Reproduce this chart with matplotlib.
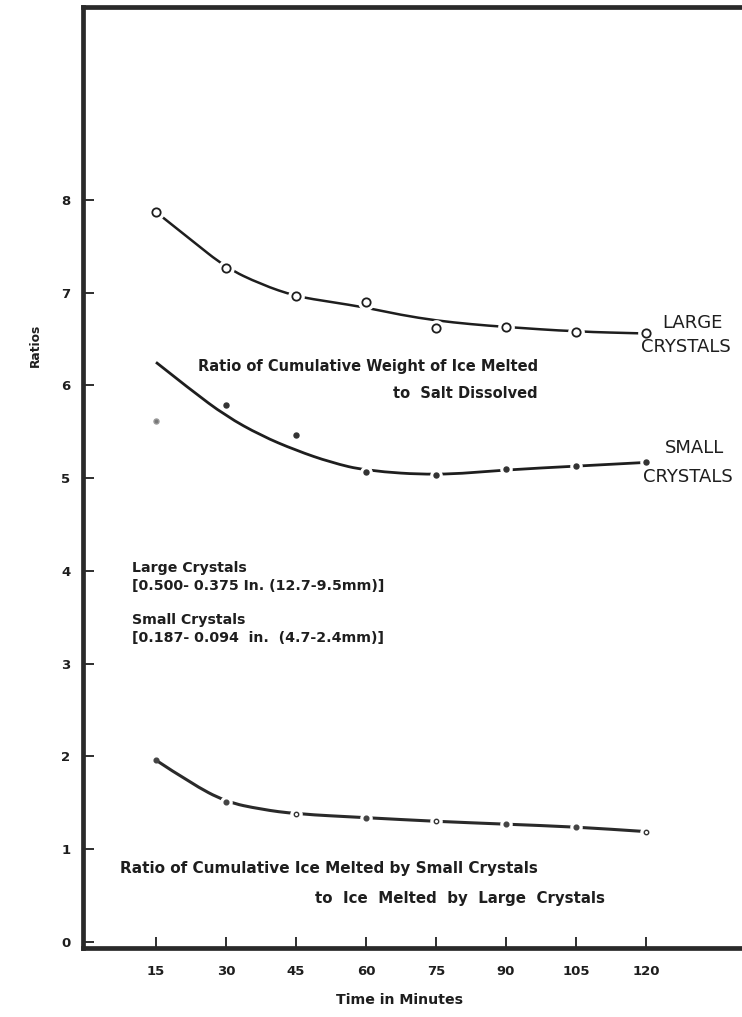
import matplotlib
matplotlib.use("Agg")
import matplotlib.pyplot as plt
from matplotlib.path import Path
from matplotlib.patches import PathPatch

# ---------------- data ----------------
time_min = [15, 30, 45, 60, 75, 90, 105, 120]
x_tick_labels = ["15", "30", "45", "60", "75", "90", "105", "120"]
y_ticks = [0, 1, 2, 3, 4, 5, 6, 7, 8]

# Ratio of cumulative weight of ice melted to salt dissolved
large_points = [7.87, 7.27, 6.96, 6.90, 6.62, 6.63, 6.58, 6.56]
small_points = [5.62, 5.79, 5.47, 5.07, 5.03, 5.10, 5.13, 5.17]

# hand-drawn smooth curves
large_curve_x = [15, 22.5, 30, 37.5, 45, 52.5, 60, 67.5, 75, 82.5, 90, 105, 120]
large_curve_y = [7.87, 7.57, 7.27, 7.09, 6.96, 6.90, 6.84, 6.76, 6.70, 6.66, 6.63, 6.58, 6.56]
small_curve_x = [15, 22.5, 30, 37.5, 45, 52.5, 60, 75, 90, 105, 120]
small_curve_y = [6.25, 5.95, 5.67, 5.46, 5.30, 5.17, 5.08, 5.03, 5.09, 5.13, 5.17]

# Ratio of cumulative ice melted by small crystals to ice melted by large crystals
ratio_points = [1.96, 1.51, 1.38, 1.34, 1.30, 1.27, 1.24, 1.19]
ratio_open = [False, False, True, False, True, False, False, True]
ratio_curve_x = [15, 22.5, 30, 37.5, 45, 60, 75, 90, 105, 120]
ratio_curve_y = [1.96, 1.71, 1.51, 1.43, 1.38, 1.34, 1.30, 1.27, 1.24, 1.19]

INK = "#1e1e1e"
FONT = "DejaVu Sans"

fig = plt.figure(figsize=(7.42, 10.17), dpi=100)
W, H = 742, 1017
left_px, right_px, top_px, bot_px = 83, 757, 7, 948
ax = fig.add_axes([left_px / W, 1 - bot_px / H, (right_px - left_px) / W, (bot_px - top_px) / H])
ax.set_xlim(-0.64, 143.8)
ax.set_ylim(-0.065, 10.08)

for side in ["left", "top", "bottom"]:
    ax.spines[side].set_linewidth(3.4)
    ax.spines[side].set_color("#2a2a2a")
ax.spines["right"].set_visible(False)

ax.set_xticks(time_min)
ax.set_xticklabels(x_tick_labels)
ax.set_yticks(y_ticks)
ax.set_yticklabels([str(v) for v in y_ticks])
ax.tick_params(axis="both", direction="in", colors=INK, width=1.3, length=8,
               labelsize=9.5)
ax.tick_params(axis="x", pad=12)
ax.tick_params(axis="y", pad=9)
for lab in ax.get_xticklabels() + ax.get_yticklabels():
    lab.set_fontweight("bold")
    lab.set_fontfamily(FONT)


def smooth_curve(xs, ys, lw, color):
    """Quadratic-Bezier rendering of a hand drawn curve through read points."""
    verts = [(xs[0], ys[0])]
    codes = [Path.MOVETO]
    for i in range(1, len(xs) - 1):
        mx = (xs[i] + xs[i + 1]) / 2
        my = (ys[i] + ys[i + 1]) / 2
        verts += [(xs[i], ys[i]), (mx, my)]
        codes += [Path.CURVE3, Path.CURVE3]
    verts.append((xs[-1], ys[-1]))
    codes.append(Path.LINETO)
    patch = PathPatch(Path(verts, codes), fill=False, edgecolor=color, lw=lw,
                      capstyle="butt", zorder=2)
    ax.add_patch(patch)


smooth_curve(large_curve_x, large_curve_y, 1.8, INK)
smooth_curve(small_curve_x, small_curve_y, 2.0, INK)
smooth_curve(ratio_curve_x, ratio_curve_y, 2.2, "#2a2a2a")

# white halos create the little gaps around each plotted point
ax.plot(time_min, large_points, ls="none", marker="o", ms=11, mfc="white", mec="white", zorder=3)
ax.plot(time_min, large_points, ls="none", marker="o", ms=6, mfc="white", mec=INK, mew=1.3, zorder=4)

ax.plot(time_min[3:], small_points[3:], ls="none", marker="o", ms=8, mfc="white", mec="white", zorder=3)
ax.plot(time_min[1:], small_points[1:], ls="none", marker="o", ms=3.6, mfc="#333333", mec="#333333", zorder=4)
ax.plot(time_min[:1], small_points[:1], ls="none", marker="o", ms=3.6, mfc="#777777", mec="#999999", zorder=4)

ax.plot(time_min[1:], ratio_points[1:], ls="none", marker="o", ms=8, mfc="white", mec="white", zorder=3)
for t, v, op in zip(time_min, ratio_points, ratio_open):
    if op:
        ax.plot([t], [v], ls="none", marker="o", ms=3.2, mfc="white", mec="#333333", mew=1.0, zorder=4)
    else:
        ax.plot([t], [v], ls="none", marker="o", ms=3.4, mfc="#444444", mec="#444444", zorder=4)


# ---- text annotations (pixel positions converted to figure fraction) ----
def ftext(xp, yp, s, ha="left", size=10, weight="bold", **kw):
    fig.text(xp / W, 1 - yp / H, s, ha=ha, va="center", fontsize=size,
             fontweight=weight, family=FONT, color=INK, **kw)


ftext(538, 366, "Ratio of Cumulative Weight of Ice Melted", ha="right", size=10.5)
ftext(538, 393, "to  Salt Dissolved", ha="right", size=10.5)

ftext(692, 323, "LARGE", ha="center", size=13, weight="normal")
ftext(686, 347, "CRYSTALS", ha="center", size=13, weight="normal")
ftext(695, 448, "SMALL", ha="center", size=13, weight="normal")
ftext(688, 477, "CRYSTALS", ha="center", size=13, weight="normal")

ftext(132, 568, "Large Crystals", size=10.2)
ftext(132, 586, "[0.500- 0.375 In. (12.7-9.5mm)]", size=10.2)
ftext(132, 620, "Small Crystals", size=10.2)
ftext(132, 638, "[0.187- 0.094  in.  (4.7-2.4mm)]", size=10.2)

ftext(120, 868, "Ratio of Cumulative Ice Melted by Small Crystals", size=11)
ftext(315, 898, "to  Ice  Melted  by  Large  Crystals", size=10.8)

ftext(400, 1000, "Time in Minutes", ha="center", size=10.2)
fig.text(35 / W, 1 - 345 / H, "Ratios", rotation=90, ha="center", va="center",
         fontsize=8.8, fontweight="bold", family=FONT, color=INK)

fig.savefig("out.png", dpi=100, facecolor="white")
